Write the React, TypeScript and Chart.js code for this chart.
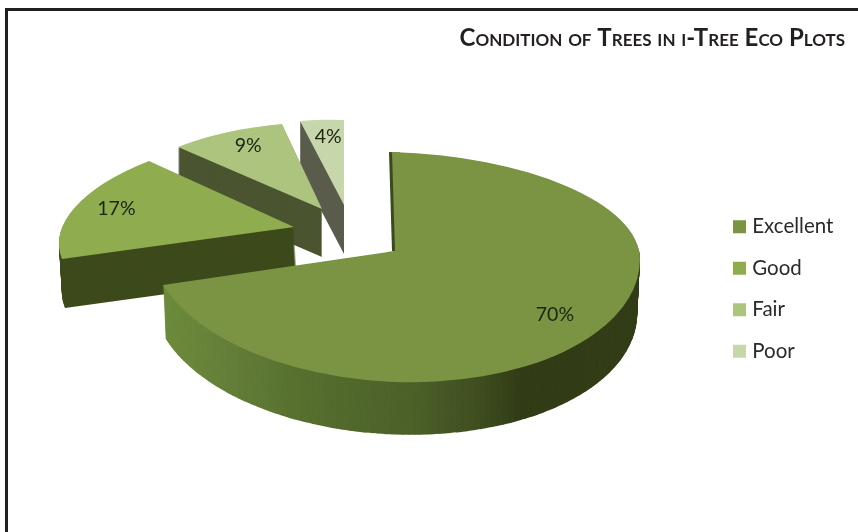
import React, { useEffect, useRef } from "react";
import { Chart, registerables } from "chart.js";

Chart.register(...registerables);

const categories = ["Excellent", "Good", "Fair", "Poor"];
const shares = [70, 17, 9, 4];
const topColors = ["#7a9443", "#8fac4f", "#adc47f", "#c7d6ab"];
const sideColors = ["#5a6e30", "#3d4a1b", "#4b5531", "#5a5c4c"];
const chartTitle = "Condition of Trees in i-Tree Eco Plots";

// Placement of each exploded wedge on the tilted plane: apex and the two rim corners.
type P = [number, number];
const wedgeFrames: { v: P; p: P; q: P }[] = [
  { v: [395, 251], p: [392, 152], q: [163, 275] },
  { v: [294, 227], p: [62, 259], q: [149, 161] },
  { v: [322, 209], p: [178, 147], q: [282, 124] },
  { v: [344, 205], p: [300, 121], q: [344, 120] },
];
const wedgeDepth = [54, 49, 48, 49];
const labelFrac = [0.8, 0.82, 0.78, 0.8];
const labelNudge: P[] = [[0, -2], [2, -2], [1, -4], [2, 0]];
// Shading of the large wedge's wall, by page x.
const wallStops: [number, string][] = [
  [153, "#6f8c3c"], [220, "#66813a"], [300, "#57702f"], [420, "#4b5f29"],
  [480, "#3f4e20"], [520, "#323d17"], [650, "#333e18"],
];

const unit = (a: number): P => [Math.cos(a), Math.sin(a)];

function wedgeMatrix(i: number, arc: any) {
  const f = wedgeFrames[i];
  const a = unit(arc.startAngle);
  const b = unit(arc.endAngle);
  const det = a[0] * b[1] - b[0] * a[1];
  const px = f.p[0] - f.v[0], py = f.p[1] - f.v[1];
  const qx = f.q[0] - f.v[0], qy = f.q[1] - f.v[1];
  // M = [p q] * inverse([a b])
  const m11 = (px * b[1] - qx * a[1]) / det;
  const m12 = (-px * b[0] + qx * a[0]) / det;
  const m21 = (py * b[1] - qy * a[1]) / det;
  const m22 = (-py * b[0] + qy * a[0]) / det;
  return { m11, m12, m21, m22, ex: f.v[0], ey: f.v[1] };
}

// The large wedge is stretched below its apex, as the perspective view does.
const LOWER_STRETCH = 131 / 99;

function paintArc(ctx: CanvasRenderingContext2D, arc: any, i: number, fill: any, dx: number, dy: number, shrink = 1) {
  const m = wedgeMatrix(i, arc);
  const R = arc.outerRadius;
  const saved = arc.options;
  arc.options = { ...saved, backgroundColor: fill, borderWidth: 0, offset: 0 };
  const once = (yMul: number) => {
    ctx.save();
    ctx.translate(m.ex + dx, m.ey + dy);
    ctx.scale(shrink, shrink);
    ctx.transform(m.m11 / R, m.m21 / R, m.m12 / R, (m.m22 * yMul) / R, 0, 0);
    ctx.translate(-arc.x, -arc.y);
    arc.draw(ctx);
    ctx.restore();
  };
  if (i === 0) {
    const yCut = m.ey + dy;
    ctx.save();
    ctx.beginPath();
    ctx.rect(0, 0, 858, yCut + 0.5);
    ctx.clip();
    once(1);
    ctx.restore();
    ctx.save();
    ctx.beginPath();
    ctx.rect(0, yCut, 858, 532 - yCut);
    ctx.clip();
    once(LOWER_STRETCH);
    ctx.restore();
  } else {
    once(1);
  }
  arc.options = saved;
}

function paintWall(ctx: CanvasRenderingContext2D, arc: any, d: number, s: number) {
  const hex = (c: string) => [1, 3, 5].map((i) => parseInt(c.slice(i, i + 2), 16));
  for (let k = 0; k < wallStops.length - 1; k++) {
    const [x0, c0] = wallStops[k];
    const [x1, c1] = wallStops[k + 1];
    const a = hex(c0), b = hex(c1);
    const steps = Math.max(1, Math.round((x1 - x0) / 6));
    for (let j = 0; j < steps; j++) {
      const t = (j + 0.5) / steps;
      const col = `rgb(${a.map((v, i) => Math.round(v + (b[i] - v) * t)).join(",")})`;
      ctx.save();
      ctx.beginPath();
      ctx.rect(x0 + (j * (x1 - x0)) / steps, 0, (x1 - x0) / steps + 0.6, 532);
      ctx.clip();
      paintArc(ctx, arc, 0, col, 0, d, s);
      ctx.restore();
    }
  }
}

const pie3d = {
  id: "pie3d",
  afterLayout(chart: any) {
    const lg = chart.legend;
    const dx = 737 - 21 - lg.left;
    lg.left += dx;
    lg.right += dx;
    const dy = 289 - (lg.top + lg.bottom) / 2;
    lg.top += dy;
    lg.bottom += dy;
    const t = chart.titleBlock;
    if (!t._capsWrapped) {
      t._capsWrapped = true;
      const drawTitle = t.draw;
      t.draw = function () {
        const c: any = chart.ctx;
        // The library sets ctx.font just before filling, which clears the caps variant.
        const fill = c.fillText;
        c.fillText = function (...args: any[]) {
          c.fontVariantCaps = "small-caps";
          fill.apply(c, args);
          c.fontVariantCaps = "normal";
        };
        drawTitle.call(t);
        delete c.fillText;
      };
    }
  },
  beforeDatasetsDraw(chart: any) {
    const ctx: CanvasRenderingContext2D = chart.ctx;
    const arcs = chart.getDatasetMeta(0).data;
    for (let n = arcs.length - 1; n >= 0; n--) {
      const arc = arcs[n];
      for (let d = wedgeDepth[n]; d >= 1; d--) {
        if (n === 0) {
          paintWall(ctx, arc, d, 1 - d * 0.0002);
        } else {
          paintArc(ctx, arc, n, sideColors[n], n === 1 ? (d / wedgeDepth[n]) * 3 : 0, d);
        }
      }
      if (n === 0) {
        // thin dark wall along the inner edge of the large wedge
        ctx.save();
        ctx.beginPath();
        ctx.rect(385, 150, 15, 101);
        ctx.clip();
        paintArc(ctx, arc, 0, "#3b4a1c", -3, 0);
        ctx.restore();
      }
      paintArc(ctx, arc, n, arc.options.backgroundColor, 0, 0);
    }
    // percentage labels
    ctx.save();
    ctx.font = "19.5px Lato";
    ctx.fillStyle = "#1c2414";
    ctx.textAlign = "center";
    ctx.textBaseline = "middle";
    arcs.forEach((arc: any, i: number) => {
      const m = wedgeMatrix(i, arc);
      const mid = (arc.startAngle + arc.endAngle) / 2;
      const u = unit(mid);
      const r = labelFrac[i];
      const yMul = i === 0 && u[1] > 0 ? LOWER_STRETCH : 1;
      const x = m.ex + r * (m.m11 * u[0] + m.m12 * u[1]);
      const y = m.ey + r * (m.m21 * u[0] + m.m22 * u[1] * yMul);
      ctx.fillText(`${shares[i]}%`, x + labelNudge[i][0], y + labelNudge[i][1]);
    });
    ctx.restore();
    return false;
  },
};

export default function App() {
  const ref = useRef<HTMLCanvasElement>(null);
  useEffect(() => {
    const chart = new Chart(ref.current!, {
      type: "pie",
      data: {
        labels: categories,
        datasets: [{ data: shares, backgroundColor: topColors, borderWidth: 0 }],
      },
      options: {
        responsive: false,
        animation: false,
        layout: { padding: { right: 13, bottom: 20 } },
        plugins: {
          tooltip: { enabled: false },
          title: {
            display: true,
            text: chartTitle,
            align: "end",
            color: "#231f20",
            font: { family: "Lato", size: 24, weight: "bold" },
            padding: { top: 24, bottom: 10 },
          },
          legend: {
            position: "right",
            labels: {
              usePointStyle: true,
              pointStyle: "rect",
              boxWidth: 5,
              boxHeight: 13,
              padding: 21,
              color: "#2a2a2a",
              font: { family: "Lato", size: 20.5 },
            },
          },
        },
      },
      plugins: [pie3d as any],
    });
    return () => chart.destroy();
  }, []);
  return (
    <div style={{ position: "fixed", left: 0, top: 0, width: 858, height: 532, background: "#fff", overflow: "hidden" }}>
      <div
        style={{
          position: "absolute",
          left: 5,
          top: 8,
          width: 860,
          height: 530,
          boxSizing: "border-box",
          borderLeft: "3px solid #231f20",
          borderTop: "3px solid #231f20",
        }}
      />
      <canvas ref={ref} width={858} height={532} style={{ position: "absolute", left: 0, top: 0, display: "block" }} />
    </div>
  );
}
